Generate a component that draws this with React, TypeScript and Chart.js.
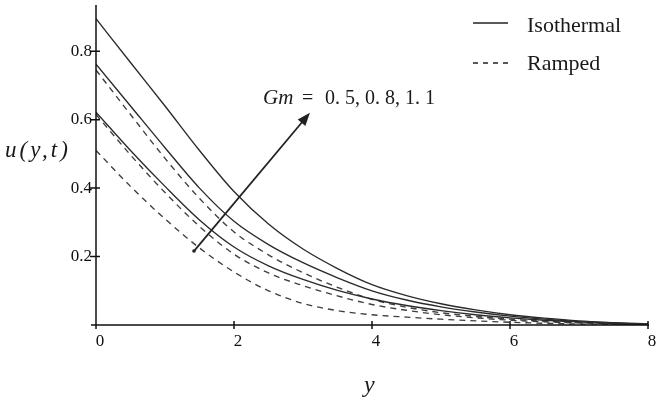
import React, { useEffect, useRef } from "react";
import { Chart, registerables } from "chart.js";

Chart.register(...registerables);

// y positions (horizontal axis "y")
const yPoints = [0, 0.5, 1, 1.5, 2, 2.5, 3, 3.5, 4, 4.5, 5, 5.5, 6, 6.5, 7, 7.5, 8];

// Isothermal (solid) velocity profiles
const isoGm05 = [0.622, 0.51, 0.405, 0.307, 0.228, 0.173, 0.133, 0.101, 0.076, 0.057, 0.042, 0.03, 0.021, 0.014, 0.009, 0.005, 0.002];
const isoGm08 = [0.762, 0.64, 0.518, 0.4, 0.303, 0.235, 0.182, 0.138, 0.1, 0.073, 0.053, 0.038, 0.026, 0.017, 0.01, 0.005, 0.002];
const isoGm11 = [0.895, 0.767, 0.64, 0.51, 0.39, 0.295, 0.222, 0.165, 0.118, 0.086, 0.062, 0.044, 0.03, 0.02, 0.012, 0.007, 0.003];

// Ramped (dashed) velocity profiles
const rampGm05 = [0.51, 0.405, 0.31, 0.225, 0.155, 0.1, 0.063, 0.042, 0.03, 0.023, 0.017, 0.012, 0.008, 0.005, 0.003, 0.002, 0.001];
const rampGm08 = [0.615, 0.497, 0.387, 0.288, 0.207, 0.152, 0.115, 0.085, 0.06, 0.043, 0.03, 0.021, 0.014, 0.009, 0.006, 0.003, 0.001];
const rampGm11 = [0.745, 0.615, 0.487, 0.37, 0.272, 0.205, 0.153, 0.11, 0.075, 0.052, 0.036, 0.025, 0.017, 0.011, 0.007, 0.004, 0.001];

const gmLabels = ["0.5", "0.8", "1.1"];
const legendLabels = ["Isothermal", "Ramped"];
const xTickValues = [0, 2, 4, 6, 8];

const SERIF = "'Liberation Serif', 'Times New Roman', serif";

const toPts = (arr: number[]) => arr.map((v, i) => ({ x: yPoints[i], y: v }));

const solid = (label: string, arr: number[]) => ({
  label,
  data: toPts(arr),
  borderColor: "#2a2a2a",
  borderWidth: 1.35,
  pointRadius: 0,
  cubicInterpolationMode: "monotone" as const,
  fill: false,
});
const dashed = (label: string, arr: number[]) => ({
  label,
  data: toPts(arr),
  borderColor: "#3e3e3e",
  borderWidth: 1.35,
  borderDash: [6, 5],
  pointRadius: 0,
  cubicInterpolationMode: "monotone" as const,
  fill: false,
});

const decorPlugin = {
  id: "decor",
  afterDatasetsDraw(chart: any) {
    const { ctx } = chart;
    const xs = chart.scales.x;
    const ys = chart.scales.y;
    const x0 = xs.getPixelForValue(0);
    const y0 = ys.getPixelForValue(0);
    ctx.save();
    ctx.strokeStyle = "#111";
    ctx.fillStyle = "#111";
    ctx.lineWidth = 1.5;
    ctx.setLineDash([]);
    // axes
    ctx.beginPath();
    ctx.moveTo(x0, chart.chartArea.top);
    ctx.lineTo(x0, y0);
    ctx.moveTo(x0 - 5, y0);
    ctx.lineTo(xs.getPixelForValue(8) + 1, y0);
    ctx.stroke();
    // y ticks crossing
    ctx.beginPath();
    ys.ticks.forEach((t: any) => {
      if (t.value <= 0) return;
      const p = ys.getPixelForValue(t.value);
      ctx.moveTo(x0 - 6, p);
      ctx.lineTo(x0 + 4, p);
    });
    // x ticks crossing
    xs.ticks.forEach((t: any) => {
      const p = xs.getPixelForValue(t.value);
      if (t.value === 0) {
        ctx.moveTo(p, y0);
        ctx.lineTo(p, y0 + 4);
      } else {
        ctx.moveTo(p, y0 - 4);
        ctx.lineTo(p, y0 + 4);
      }
    });
    ctx.stroke();

    // arrow
    const ax1 = xs.getPixelForValue(1.42);
    const ay1 = ys.getPixelForValue(0.216);
    const ax2 = xs.getPixelForValue(3.1);
    const ay2 = ys.getPixelForValue(0.62);
    const ang = Math.atan2(ay2 - ay1, ax2 - ax1);
    const hl = 13;
    const hw = 5;
    ctx.lineWidth = 1.8;
    ctx.strokeStyle = "#222";
    ctx.fillStyle = "#222";
    ctx.beginPath();
    ctx.moveTo(ax1, ay1);
    ctx.lineTo(ax2 - Math.cos(ang) * (hl - 2), ay2 - Math.sin(ang) * (hl - 2));
    ctx.stroke();
    ctx.beginPath();
    ctx.moveTo(ax2, ay2);
    ctx.lineTo(
      ax2 - Math.cos(ang) * hl - Math.sin(ang) * hw,
      ay2 - Math.sin(ang) * hl + Math.cos(ang) * hw
    );
    ctx.lineTo(
      ax2 - Math.cos(ang) * hl + Math.sin(ang) * hw,
      ay2 - Math.sin(ang) * hl - Math.cos(ang) * hw
    );
    ctx.closePath();
    ctx.fill();
    ctx.beginPath();
    ctx.arc(ax1, ay1, 1.8, 0, Math.PI * 2);
    ctx.fill();

    // annotation text
    ctx.fillStyle = "#1a1a1a";
    ctx.textBaseline = "alphabetic";
    ctx.textAlign = "left";
    const tx = xs.getPixelForValue(2.42);
    const tb = 104;
    ctx.font = `italic 21px ${SERIF}`;
    ctx.fillText("Gm", tx, tb);
    ctx.font = `20px ${SERIF}`;
    ctx.fillText("=", tx + 39, tb);
    ctx.fillText(gmLabels.map((g) => g.replace(".", ". ")).join(", "), tx + 62, tb);

    // legend
    const lx1 = 473;
    const lx2 = 508;
    ctx.strokeStyle = "#222";
    ctx.lineWidth = 1.4;
    ctx.beginPath();
    ctx.moveTo(lx1, 23);
    ctx.lineTo(lx2, 23);
    ctx.stroke();
    ctx.setLineDash([5, 5]);
    ctx.beginPath();
    ctx.moveTo(lx1, 63);
    ctx.lineTo(lx2 + 4, 63);
    ctx.stroke();
    ctx.setLineDash([]);
    ctx.font = `22px ${SERIF}`;
    ctx.fillStyle = "#1a1a1a";
    ctx.fillText(legendLabels[0], 527, 32);
    ctx.fillText(legendLabels[1], 527, 70);

    // axis titles
    ctx.font = `italic 23px ${SERIF}`;
    try {
      (ctx as any).letterSpacing = "3px";
    } catch (e) {}
    ctx.fillText("u(y,t)", 5, 157);
    try {
      (ctx as any).letterSpacing = "0px";
    } catch (e) {}
    ctx.font = `italic 24px ${SERIF}`;
    ctx.textAlign = "center";
    ctx.fillText("y", xs.getPixelForValue(3.96), 392);
    ctx.restore();
  },
};

export default function App() {
  const ref = useRef<HTMLCanvasElement | null>(null);
  useEffect(() => {
    document.body.style.margin = "0";
    const canvas = ref.current;
    if (!canvas) return;
    const chart = new Chart(canvas, {
      type: "line",
      data: {
        datasets: [
          solid("Isothermal Gm=0.5", isoGm05),
          solid("Isothermal Gm=0.8", isoGm08),
          solid("Isothermal Gm=1.1", isoGm11),
          dashed("Ramped Gm=0.5", rampGm05),
          dashed("Ramped Gm=0.8", rampGm08),
          dashed("Ramped Gm=1.1", rampGm11),
        ],
      },
      options: {
        responsive: false,
        animation: false,
        devicePixelRatio: 1,
        layout: { padding: { top: 5, right: 16, bottom: 0, left: 0 } },
        plugins: {
          legend: { display: false },
          tooltip: { enabled: false },
        },
        scales: {
          x: {
            type: "linear",
            min: 0,
            max: 8,
            afterFit: (s: any) => {
              s.height = 80;
              s.paddingLeft = 0;
              s.paddingRight = 0;
            },
            afterBuildTicks: (s: any) => {
              s.ticks = xTickValues.map((v) => ({ value: v }));
            },
            ticks: {
              stepSize: 2,
              labelOffset: 4,
              padding: 6,
              color: "#111",
              font: { family: SERIF, size: 17 },
              maxRotation: 0,
            },
            grid: { display: false, drawTicks: false },
            border: { display: false },
          },
          y: {
            type: "linear",
            min: 0,
            max: 0.935,
            afterFit: (s: any) => {
              s.width = 96;
              s.paddingTop = 0;
              s.paddingBottom = 0;
            },
            ticks: {
              stepSize: 0.2,
              includeBounds: false,
              padding: 4,
              color: "#111",
              font: { family: SERIF, size: 17 },
              callback: (v: any) => (Number(v) === 0 ? "" : Number(v).toFixed(1)),
            },
            grid: { display: false, drawTicks: false },
            border: { display: false },
          },
        },
      },
      plugins: [decorPlugin],
    });
    return () => chart.destroy();
  }, []);
  return (
    <div style={{ position: "absolute", left: 0, top: 0, width: 664, height: 405, background: "#fff" }}>
      <canvas ref={ref} width={664} height={405} />
    </div>
  );
}
